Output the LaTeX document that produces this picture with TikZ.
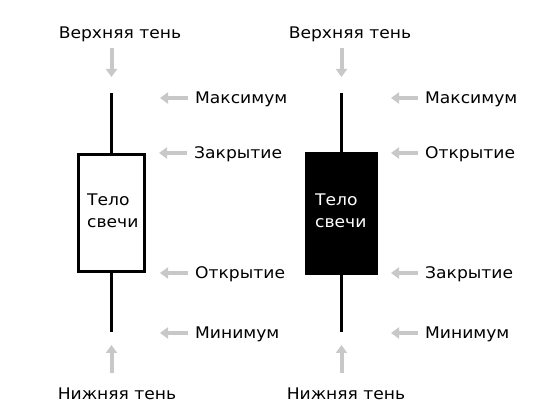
\documentclass[tikz,border=0pt]{standalone}
\usepackage{fontspec}
\setmainfont[FakeStretch=1.07]{DejaVu Sans}
\usetikzlibrary{positioning,arrows.meta}
\definecolor{pointergray}{RGB}{200,200,200}

\begin{document}
\begin{tikzpicture}[x=1pt,y=-1pt]

%--------------------------------------------------
% STYLES
%--------------------------------------------------

\tikzset{
caption/.style={
font=\fontsize{16}{19}\selectfont,
inner sep=0pt,
anchor=base
},
pricelbl/.style={
caption,
anchor=base west
},
pointer/.style={
draw=pointergray,
line width=4pt,
-{Triangle[length=8pt,width=11pt]}
},
wick/.style={
line width=3pt
},
candlebody/.style={
draw=black,
line width=3pt,
minimum width=66pt,
minimum height=117pt,
inner sep=0pt
},
bodytext/.style={
font=\fontsize{16}{22}\selectfont,
align=left,
inner sep=0pt,
anchor=west
}
}

\useasboundingbox (0,0) rectangle (558,419);

%--------------------------------------------------
% LEFT CANDLE (WHITE)
%--------------------------------------------------

\node[candlebody,fill=white] (bodyL) at (111.5,213) {};
\node[bodytext] (textL) at (87,211) {Тело\\свечи};

\coordinate (highL) at (111.5,93);
\coordinate (lowL) at (111.5,332);
\draw[wick] (highL) -- (bodyL.north);
\draw[wick] (bodyL.south) -- (lowL);

\node[caption] (upperL) at (120,38.5) {Верхняя тень};
\node[caption] (lowerL) at (117,400) {Нижняя тень};

\coordinate (upperLtail) at (111.5,48);
\coordinate (upperLtip) at (111.5,77);
\coordinate (lowerLtail) at (111.5,373);
\coordinate (lowerLtip) at (111.5,345);
\draw[pointer] (upperLtail) -- (upperLtip);
\draw[pointer] (lowerLtail) -- (lowerLtip);

\node[pricelbl] (maxL) at (195,103.5) {Максимум};
\node[pricelbl] (closeL) at (194,158.5) {Закрытие};
\node[pricelbl] (openL) at (195,278.5) {Открытие};
\node[pricelbl] (minL) at (195,338.5) {Минимум};

\foreach \lbl in {maxL,closeL,openL,minL}
{
\coordinate (\lbl tip) at ([xshift=-35pt,yshift=5.5pt]\lbl.base west);
\draw[pointer] ([xshift=-7pt,yshift=5.5pt]\lbl.base west) -- (\lbl tip);
}

%--------------------------------------------------
% RIGHT CANDLE (BLACK)
%--------------------------------------------------

\node[candlebody,fill=black,minimum width=70pt,minimum height=120pt] (bodyR) at (341.5,214) {};
\node[bodytext,text=white] (textR) at (315,211) {Тело\\свечи};

\coordinate (highR) at (341.5,93);
\coordinate (lowR) at (341.5,332);
\draw[wick] (highR) -- (bodyR.north);
\draw[wick] (bodyR.south) -- (lowR);

\node[caption] (upperR) at (350,38.5) {Верхняя тень};
\node[caption] (lowerR) at (346,400) {Нижняя тень};

\coordinate (upperRtail) at (341.5,48);
\coordinate (upperRtip) at (341.5,77);
\coordinate (lowerRtail) at (341.5,373);
\coordinate (lowerRtip) at (341.5,345);
\draw[pointer] (upperRtail) -- (upperRtip);
\draw[pointer] (lowerRtail) -- (lowerRtip);

\node[pricelbl] (maxR) at (425,103.5) {Максимум};
\node[pricelbl] (openR) at (425,158.5) {Открытие};
\node[pricelbl] (closeR) at (425,278.5) {Закрытие};
\node[pricelbl] (minR) at (425,338.5) {Минимум};

\foreach \lbl in {maxR,openR,closeR,minR}
{
\coordinate (\lbl tip) at ([xshift=-34pt,yshift=5.5pt]\lbl.base west);
\draw[pointer] ([xshift=-7pt,yshift=5.5pt]\lbl.base west) -- (\lbl tip);
}

\end{tikzpicture}
\end{document}
